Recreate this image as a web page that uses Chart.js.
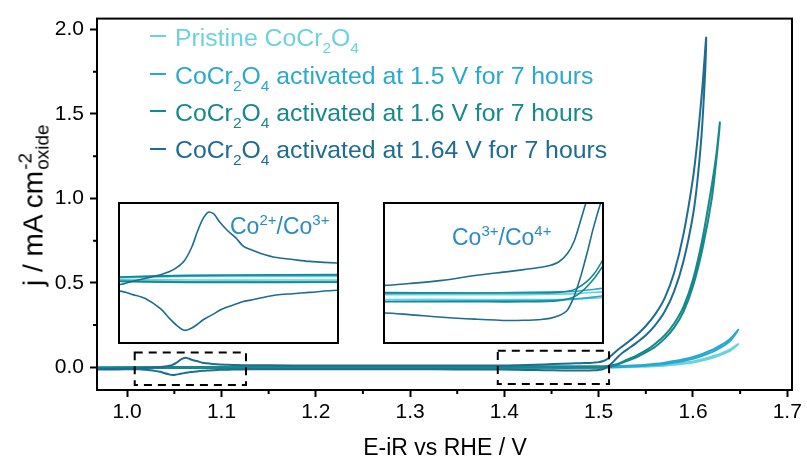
<!DOCTYPE html>
<html lang="en">
<head>
  <meta charset="UTF-8" />
  <title>CoCr2O4 polarisation curves</title>
  <script src="https://cdn.jsdelivr.net/npm/chart.js"></script>
  <style>
    body {
      margin: 0;
      background: #fff;
      font-family: 'Liberation Sans', Arial, sans-serif;
    }

    #page {
      position: relative;
      width: 807px;
      height: 468px;
      overflow: hidden;
    }

    #mainChart {
      position: absolute;
      left: 0;
      top: 0;
    }

    .inset {
      position: absolute;
      box-sizing: border-box;
      width: 221px;
      height: 142px;
      border: 2px solid #000;
      background: #fff;
    }

    .inset canvas {
      display: block;
    }

    .lab {
      position: absolute;
      white-space: nowrap;
      line-height: 1;
    }

    .lab sub, .lab sup {
      line-height: 0;
      vertical-align: baseline;
      position: relative;
    }

    .legend-row {
      left: 175px;
      font-size: 24.8px;
      line-height: 24px;
    }

    .legend-row sub {
      font-size: 15.5px;
      top: 7px;
    }

    .swatch {
      position: absolute;
      left: 150px;
      width: 16px;
      height: 2px;
    }

    .couple {
      font-size: 23px;
      line-height: 23px;
      color: #2b8bc3;
    }

    .couple sup {
      font-size: 15px;
      top: -9px;
    }

    #xTitle {
      left: 445px;
      top: 436px;
      transform: translateX(-50%);
      font-size: 23px;
    }

    #yTitle {
      left: 31px;
      top: 205px;
      transform: translate(-50%, -50%) rotate(-90deg);
      font-size: 28px;
    }

    .stack {
      display: inline-block;
      position: relative;
      width: 47px;
      height: 28px;
    }

    .stack span {
      position: absolute;
      left: 1px;
      font-size: 19px;
      line-height: 19px;
    }
  </style>
</head>
<body>

<div id="page">
  <canvas id="mainChart" width="807" height="468"></canvas>

  <div class="inset" style="left:118px; top:202px;"><canvas id="inset1" width="217" height="138"></canvas></div>
  <div class="inset" style="left:383px; top:202px;"><canvas id="inset2" width="217" height="138"></canvas></div>

  <div class="lab couple" style="left:230px; top:215px;">Co<sup>2+</sup>/Co<sup>3+</sup></div>
  <div class="lab couple" style="left:452px; top:226px;">Co<sup>3+</sup>/Co<sup>4+</sup></div>

  <span class="swatch" style="top:35px; background:#6ad3dc;"></span>
  <div class="lab legend-row" style="top:26px; color:#6ad3dc;">Pristine CoCr<sub>2</sub>O<sub>4</sub></div>
  <span class="swatch" style="top:73px; background:#29a8d0;"></span>
  <div class="lab legend-row" style="top:64px; color:#29a8d0;">CoCr<sub>2</sub>O<sub>4</sub> activated at 1.5 V for 7 hours</div>
  <span class="swatch" style="top:110px; background:#16898c;"></span>
  <div class="lab legend-row" style="top:101px; color:#16898c;">CoCr<sub>2</sub>O<sub>4</sub> activated at 1.6 V for 7 hours</div>
  <span class="swatch" style="top:148px; background:#1e6c91;"></span>
  <div class="lab legend-row" style="top:138px; color:#1e6c91;">CoCr<sub>2</sub>O<sub>4</sub> activated at 1.64 V for 7 hours</div>

  <div class="lab" id="xTitle">E-iR vs RHE / V</div>
  <div class="lab" id="yTitle">j / mA cm<span class="stack"><span style="top:1px;">-2</span><span style="top:18px;">oxide</span></span></div>
</div>

<script>
  // potential grid (V vs RHE) for the sample activated at 1.64 V
  const potential164 = [0.965, 0.99, 1.013, 1.020, 1.027, 1.035, 1.040, 1.044, 1.048, 1.052,
    1.055, 1.058, 1.061, 1.064, 1.067, 1.071, 1.076, 1.080, 1.084, 1.090,
    1.098, 1.107, 1.116, 1.131, 1.15, 1.20, 1.25, 1.30, 1.35, 1.40,
    1.414, 1.433, 1.452, 1.471, 1.480, 1.490, 1.495, 1.500, 1.505, 1.509,
    1.513, 1.517, 1.520, 1.525, 1.530, 1.540, 1.550, 1.560, 1.570, 1.580,
    1.590, 1.600, 1.605, 1.610, 1.614];
  // anodic (forward) and cathodic (return) scan, mA cm-2
  const fwd164 = [-0.011, -0.0085, -0.0059, -0.003, -0.0005, 0.0025, 0.0052, 0.0088, 0.0145, 0.026,
    0.039, 0.050, 0.056, 0.0545, 0.048, 0.041, 0.034, 0.027, 0.024, 0.0205,
    0.0172, 0.0155, 0.0139, 0.0125, 0.012, 0.0115, 0.011, 0.011, 0.011, 0.011,
    0.0126, 0.0153, 0.0195, 0.0228, 0.0245, 0.0265, 0.028, 0.031, 0.038, 0.049,
    0.068, 0.088, 0.103, 0.124, 0.145, 0.19, 0.245, 0.315, 0.41, 0.56,
    0.79, 1.12, 1.36, 1.66, 1.95];
  const rev164 = [-0.0125, -0.012, -0.0115, -0.0145, -0.018, -0.0265, -0.035, -0.041, -0.045, -0.043,
    -0.040, -0.0362, -0.0335, -0.031, -0.028, -0.0253, -0.0225, -0.0204, -0.0192, -0.0172,
    -0.0148, -0.0137, -0.0126, -0.0108, -0.0108, -0.011, -0.0112, -0.0115, -0.012, -0.0126,
    -0.014, -0.0162, -0.0178, -0.019, -0.0188, -0.0181, -0.0172, -0.015, -0.0102, 0.002,
    0.020, 0.042, 0.060, 0.085, 0.105, 0.145, 0.19, 0.25, 0.33, 0.45,
    0.63, 0.90, 1.12, 1.45, 1.95];

  // potential grid for the other three samples
  const potential = [0.965, 1.00, 1.05, 1.10, 1.20, 1.30, 1.40, 1.45, 1.48, 1.50,
    1.51, 1.52, 1.53, 1.54, 1.55, 1.56, 1.57, 1.58, 1.59, 1.60,
    1.61, 1.62, 1.625, 1.6285, 1.635, 1.64, 1.648];
  const fwdPristine = [0.001, 0.000, 0.001, 0.001, 0.0015, 0.002, 0.003, 0.003, 0.003, 0.0035,
    0.004, 0.005, 0.006, 0.008, 0.010, 0.013, 0.017, 0.022, 0.028, 0.035,
    0.048, 0.064, 0.073, 0.080, 0.094, 0.108, 0.138];
  const revPristine = [0.001, -0.001, -0.002, -0.002, -0.0018, -0.0015, -0.001, -0.001, -0.001, -0.001,
    -0.0005, 0.000, 0.001, 0.002, 0.004, 0.007, 0.010, 0.015, 0.021, 0.029,
    0.040, 0.055, 0.064, 0.071, 0.086, 0.100, 0.138];
  const fwd15 = [0.000, 0.000, 0.0015, 0.002, 0.0025, 0.003, 0.0042, 0.0045, 0.005, 0.0055,
    0.006, 0.0075, 0.0095, 0.012, 0.016, 0.021, 0.028, 0.037, 0.048, 0.062,
    0.080, 0.103, 0.117, 0.128, 0.150, 0.172, 0.222];
  const rev15 = [0.000, -0.002, -0.0035, -0.0035, -0.003, -0.0028, -0.0025, -0.0022, -0.002, -0.0015,
    -0.0005, 0.001, 0.003, 0.006, 0.0095, 0.014, 0.020, 0.028, 0.038, 0.051,
    0.068, 0.090, 0.104, 0.115, 0.137, 0.160, 0.222];
  const fwd16 = [-0.002, 0.000, 0.002, 0.0025, 0.003, 0.004, 0.0048, 0.0045, 0.0045, 0.005,
    0.008, 0.020, 0.045, 0.070, 0.100, 0.140, 0.190, 0.260, 0.360, 0.520,
    0.760, 1.080, 1.270, 1.450, null, null, null];
  const rev16 = [-0.002, -0.003, -0.004, -0.004, -0.0038, -0.0035, -0.003, -0.003, -0.003, -0.002,
    0.002, 0.016, 0.038, 0.060, 0.088, 0.122, 0.170, 0.235, 0.330, 0.480,
    0.700, 1.000, 1.240, 1.450, null, null, null];

  const xTickValues = [1.0, 1.1, 1.2, 1.3, 1.4, 1.5, 1.6, 1.7];
  const xMinorValues = [1.05, 1.15, 1.25, 1.35, 1.45, 1.55, 1.65];
  const yTickValues = [0.0, 0.5, 1.0, 1.5, 2.0];
  const yMinorValues = [0.25, 0.75, 1.25, 1.75];

  // regions magnified in the two insets (dashed boxes on the main plot)
  const zoomBoxes = [
    { x0: 1.008, x1: 1.126, y0: -0.105, y1: 0.088 },
    { x0: 1.393, x1: 1.511, y0: -0.099, y1: 0.099 }
  ];

  Chart.defaults.font.family = "'Liberation Sans', Arial, sans-serif";
  Chart.defaults.color = "#000";

  const series = [
    { e: potential164, fwd: fwd164, rev: rev164, color: "#1e6c91" },
    { e: potential, fwd: fwd16, rev: rev16, color: "#16898c" },
    { e: potential, fwd: fwd15, rev: rev15, color: "#29a8d0" },
    { e: potential, fwd: fwdPristine, rev: revPristine, color: "#6ad3dc" }
  ];

  // forward scan up to the vertex, then the return scan back down
  function loop(e, fwd, rev) {
    const pts = [];
    e.forEach((v, i) => {
      if (fwd[i] !== null) pts.push({ x: v, y: fwd[i] });
    });
    for (let i = e.length - 1; i >= 0; i--) {
      if (rev[i] === null) continue;
      const last = pts[pts.length - 1];
      if (last.x === e[i] && last.y === rev[i]) continue;
      pts.push({ x: e[i], y: rev[i] });
    }
    return pts;
  }

  function makeDatasets(width) {
    return series.map(s => ({
      data: loop(s.e, s.fwd, s.rev),
      borderColor: s.color,
      borderWidth: width,
      pointRadius: 0,
      tension: 0.3,
      fill: false
    }));
  }

  const framePlugin = {
    id: "frame",
    afterDatasetsDraw(chart) {
      const { ctx, chartArea: a, scales: { x, y } } = chart;
      ctx.save();
      ctx.strokeStyle = "#000";
      ctx.lineWidth = 2;
      ctx.strokeRect(a.left, a.top, a.right - a.left, a.bottom - a.top);

      // minor ticks
      ctx.beginPath();
      xMinorValues.forEach(v => {
        const px = x.getPixelForValue(v);
        ctx.moveTo(px, a.bottom);
        ctx.lineTo(px, a.bottom + 4);
      });
      yMinorValues.forEach(v => {
        const py = y.getPixelForValue(v);
        ctx.moveTo(a.left, py);
        ctx.lineTo(a.left - 4, py);
      });
      ctx.stroke();

      // dashed zoom boxes
      ctx.setLineDash([8, 6]);
      zoomBoxes.forEach(b => {
        const l = x.getPixelForValue(b.x0), r = x.getPixelForValue(b.x1);
        const t = y.getPixelForValue(b.y1), btm = y.getPixelForValue(b.y0);
        ctx.strokeRect(l, t, r - l, btm - t);
      });
      ctx.restore();
    }
  };

  new Chart(document.getElementById("mainChart"), {
    type: "line",
    data: { datasets: makeDatasets(2) },
    options: {
      responsive: false,
      animation: false,
      events: [],
      layout: { padding: { top: 14, right: 15, left: 0, bottom: 0 } },
      plugins: { legend: { display: false }, tooltip: { enabled: false } },
      scales: {
        x: {
          type: "linear",
          min: 0.968,
          max: 1.705,
          afterFit: s => { s.height = 78; },
          afterBuildTicks: s => { s.ticks = xTickValues.map(v => ({ value: v })); },
          grid: { drawOnChartArea: false, tickLength: 7, tickWidth: 2, tickColor: "#000" },
          border: { color: "#000", width: 2 },
          ticks: { font: { size: 21 }, color: "#000", padding: 3, maxRotation: 0, autoSkip: false,
            callback: v => v.toFixed(1) }
        },
        y: {
          min: -0.134,
          max: 2.064,
          afterFit: s => { s.width = 97; },
          afterBuildTicks: s => { s.ticks = yTickValues.map(v => ({ value: v })); },
          grid: { drawOnChartArea: false, tickLength: 7, tickWidth: 2, tickColor: "#000" },
          border: { color: "#000", width: 2 },
          ticks: { font: { size: 21 }, color: "#000", padding: 6, autoSkip: false,
            callback: v => v.toFixed(1) }
        }
      }
    },
    plugins: [framePlugin]
  });

  function makeInset(id, xRange, yRange) {
    new Chart(document.getElementById(id), {
      type: "line",
      data: { datasets: makeDatasets(1.6) },
      options: {
        responsive: false,
        animation: false,
        events: [],
        layout: { padding: 0 },
        plugins: { legend: { display: false }, tooltip: { enabled: false } },
        scales: {
          x: { type: "linear", display: false, min: xRange[0], max: xRange[1] },
          y: { display: false, min: yRange[0], max: yRange[1] }
        }
      }
    });
  }

  makeInset("inset1", [1.013, 1.131], [-0.055, 0.063]);
  makeInset("inset2", [1.40, 1.525], [-0.0374, 0.0806]);
</script>

</body>
</html>
